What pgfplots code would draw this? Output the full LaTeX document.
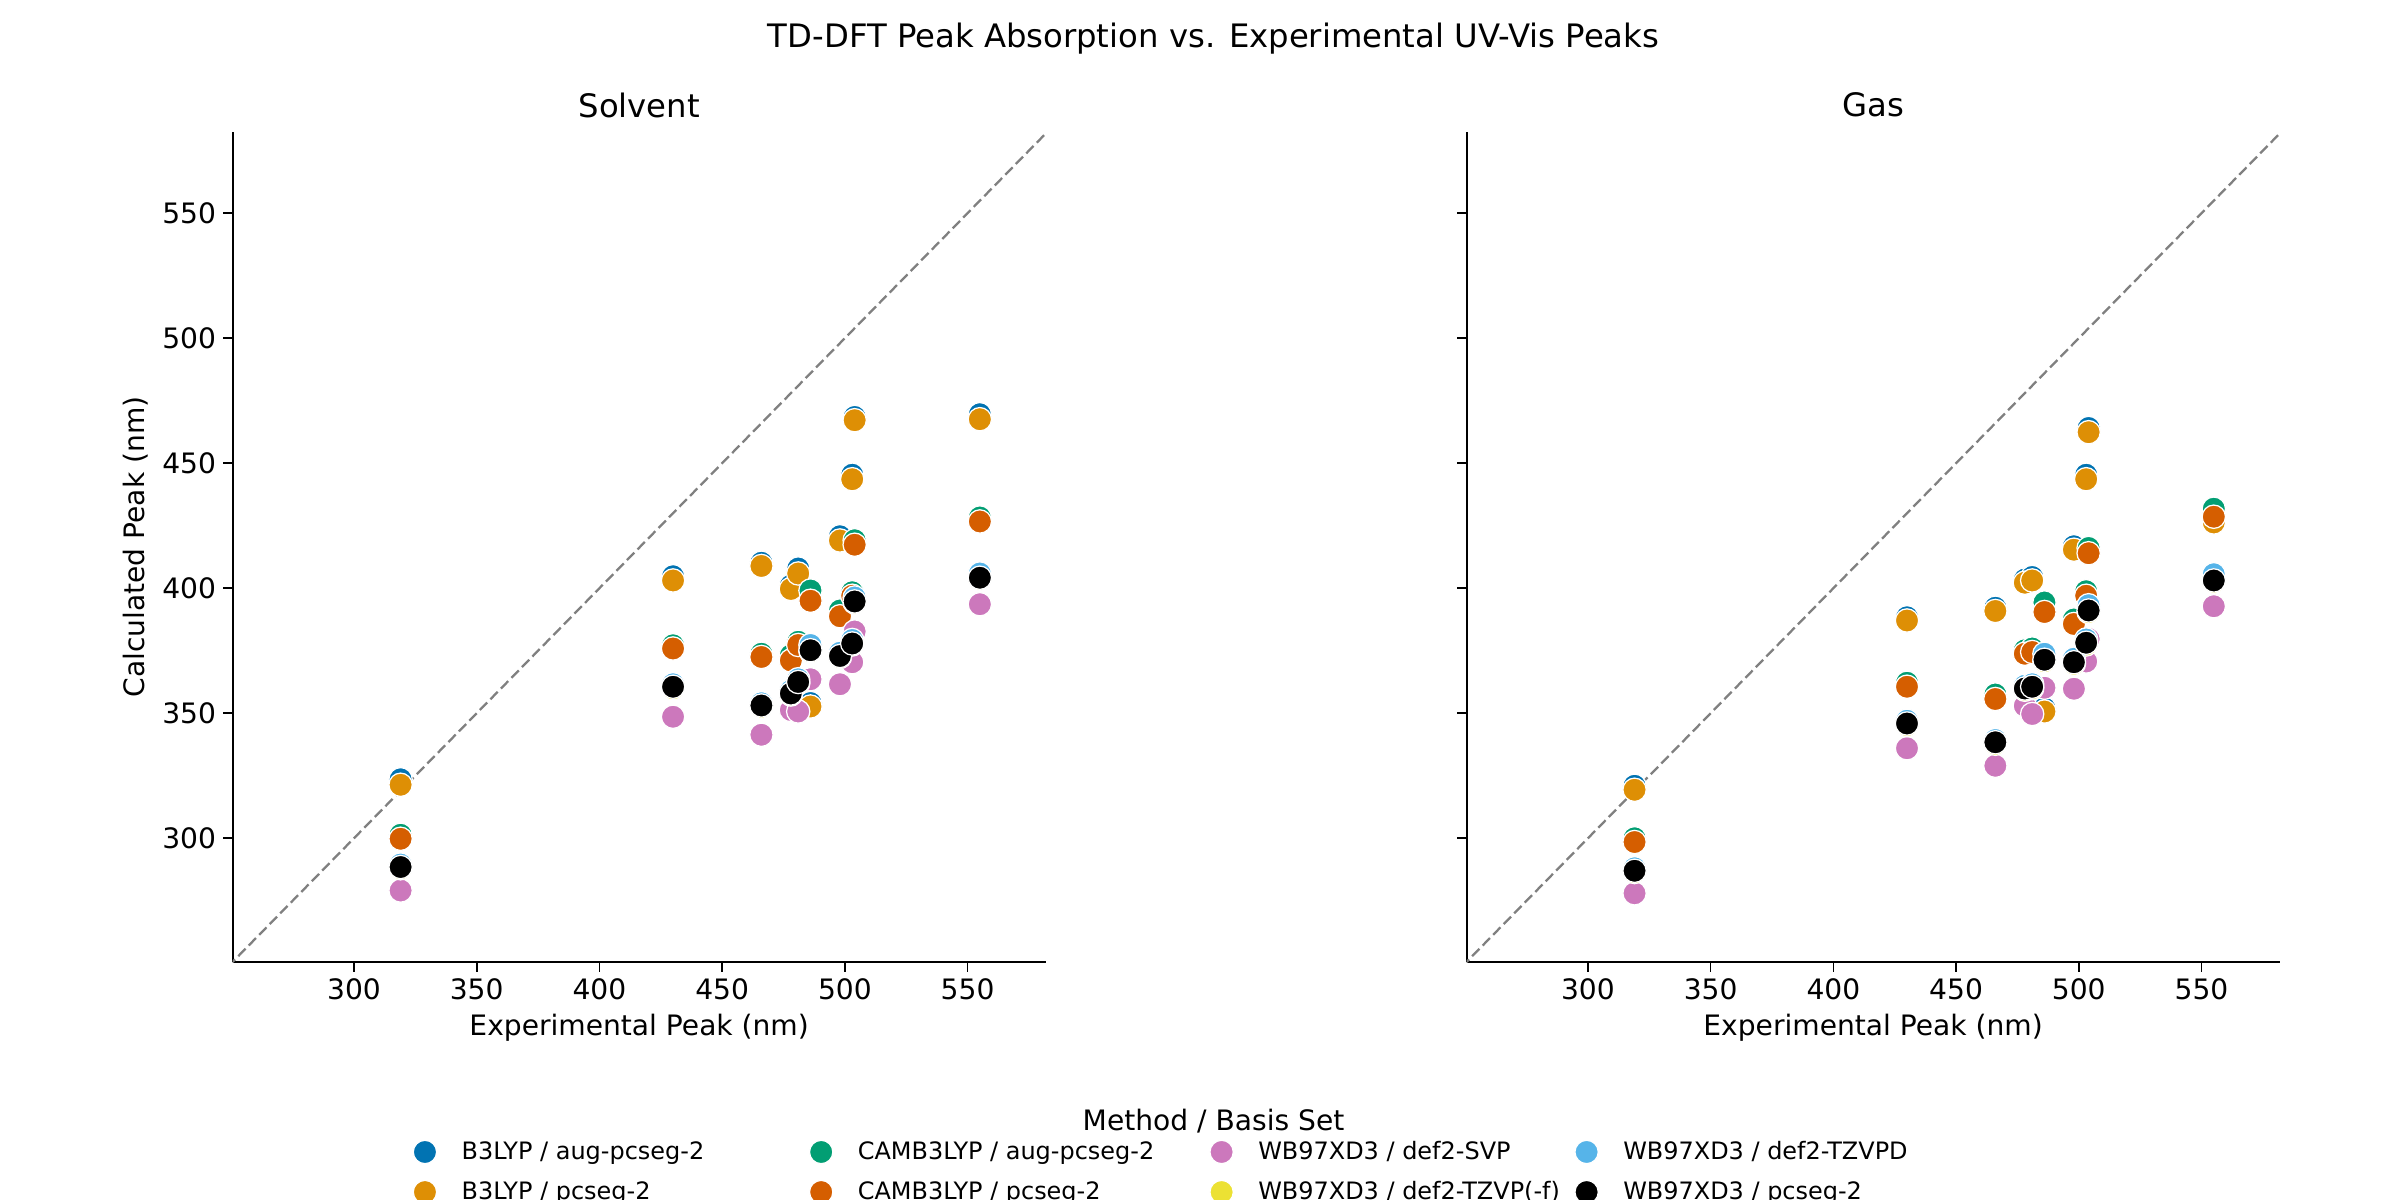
\documentclass[border=0pt]{standalone}
\usepackage{pgfplots}
\pgfplotsset{compat=1.18}
\usepackage{pgfplotstable}
\usepackage{fontspec}
\setmainfont{DejaVu Sans}
\definecolor{cA}{HTML}{0173B2}
\definecolor{cB}{HTML}{DE8F05}
\definecolor{cC}{HTML}{029E73}
\definecolor{cD}{HTML}{D55E00}
\definecolor{cE}{HTML}{CC78BC}
\definecolor{cF}{HTML}{ECE133}
\definecolor{cG}{HTML}{56B4E9}
\definecolor{cH}{HTML}{000000}
\pgfplotstableread{
x   a     b     c     d     e     f     g     h
319 323.6 321.4 301.4 299.8 279.1 288.0 289.5 288.5
430 404.8 403.1 377.2 375.9 348.6 360.0 361.6 360.6
466 410.2 408.9 373.8 372.5 341.4 352.6 354.0 353.1
478 401.1 399.7 373.2 371.1 351.3 357.5 359.0 357.9
481 407.9 405.9 378.6 377.3 350.7 362.0 363.6 362.5
486 354.1 352.7 399.1 395.0 363.6 374.8 377.3 375.2
498 420.8 419.1 391.1 388.8 361.6 372.5 374.2 372.9
503 445.4 443.6 398.4 397.0 370.4 377.5 379.3 377.9
504 468.5 467.2 419.2 417.4 382.7 394.3 396.3 394.7
555 469.6 467.6 428.3 426.7 393.6 403.8 405.9 404.2
}\solv
\pgfplotstableread{
x   a     b     c     d     e     f     g     h
319 321.0 319.4 300.0 298.5 278.0 286.5 288.0 287.0
430 388.4 387.1 362.2 360.6 336.0 345.3 347.0 345.9
466 392.2 390.9 357.5 355.7 329.0 337.8 339.3 338.4
478 403.5 402.2 375.2 373.8 353.0 359.4 361.0 359.9
481 404.5 403.1 375.9 374.5 349.7 360.0 361.6 360.6
486 352.0 350.7 394.3 390.5 360.2 370.8 373.8 371.4
498 416.8 415.4 387.5 385.7 359.8 369.8 371.8 370.4
503 445.4 443.6 398.8 397.0 370.7 377.5 379.5 378.2
504 464.1 462.4 416.1 414.0 379.7 390.5 393.2 391.1
555 427.6 426.3 431.8 428.6 392.8 402.6 405.6 403.1
}\gas
\pgfplotsset{
  panel/.style={
    scale only axis, width=390.2pt, height=398.7pt,
    xmin=250.6, xmax=581.8, ymin=250.4, ymax=582.6,
    axis x line*=bottom, axis y line*=left,
    axis line style={line width=0.8pt, -},
    tick align=outside, major tick length=4.5pt,
    tick style={line width=0.8pt, black},
    xtick={300,350,...,550}, ytick={300,350,...,550},
    tick label style={font=\fontsize{13.5}{15}\selectfont},
    label style={font=\fontsize{13.5}{15}\selectfont},
    /pgf/number format/assume math mode=true,
    xlabel={Experimental Peak (nm)},
    clip=true,
  },
  sc/.style={only marks, mark=*, mark size=5.6pt, mark options={fill=#1, draw=white, line width=0.6pt}},
  diag/.style={color=black!50, line width=1.1pt, dash pattern=on 5pt off 2.2pt, forget plot},
}
\newcommand{\series}[1]{%
  \addplot[sc=cA, forget plot] table[x=x,y=a]{#1};
  \addplot[sc=cB, forget plot] table[x=x,y=b]{#1};
  \addplot[sc=cC, forget plot] table[x=x,y=c]{#1};
  \addplot[sc=cD, forget plot] table[x=x,y=d]{#1};
  \addplot[sc=cE, forget plot] table[x=x,y=e]{#1};
  \addplot[sc=cF, forget plot] table[x=x,y=f]{#1};
  \addplot[sc=cG, forget plot] table[x=x,y=g]{#1};
  \addplot[sc=cH, forget plot] table[x=x,y=h]{#1};
}
\begin{document}
\begin{tikzpicture}
\path[use as bounding box] (0,0) rectangle (1152pt,576pt);
\begin{axis}[panel, at={(111.7pt,114.1pt)}, anchor=south west, ylabel={Calculated Peak (nm)}]
\addplot[diag] coordinates {(240,240) (600,600)};
\series{\solv}
\end{axis}
\begin{axis}[panel, at={(704pt,114.1pt)}, anchor=south west, yticklabels={},
  legend columns=4,
  legend style={draw=none, fill=none, at={(-1.304,-0.205)}, anchor=north west,
    font=\fontsize{11.5}{13.5}\selectfont, row sep=5pt},
  legend cell align=left]
\addplot[diag] coordinates {(240,240) (600,600)};
\series{\gas}
\addlegendimage{sc=cA}\addlegendentry{\hspace{10pt}\makebox[165pt][l]{B3LYP / aug-pcseg-2}}
\addlegendimage{sc=cC}\addlegendentry{\hspace{10pt}\makebox[167pt][l]{CAMB3LYP / aug-pcseg-2}}
\addlegendimage{sc=cE}\addlegendentry{\hspace{10pt}\makebox[150pt][l]{WB97XD3 / def2-SVP}}
\addlegendimage{sc=cG}\addlegendentry{\hspace{10pt}WB97XD3 / def2-TZVPD}
\addlegendimage{sc=cB}\addlegendentry{\hspace{10pt}B3LYP / pcseg-2}
\addlegendimage{sc=cD}\addlegendentry{\hspace{10pt}CAMB3LYP / pcseg-2}
\addlegendimage{sc=cF}\addlegendentry{\hspace{10pt}WB97XD3 / def2-TZVP(-f)}
\addlegendimage{sc=cH}\addlegendentry{\hspace{10pt}WB97XD3 / pcseg-2}
\end{axis}
\node[font=\fontsize{15.5}{17}\selectfont] at (582.5pt,557.3pt) {TD-DFT Peak Absorption vs. Experimental UV-Vis Peaks};
\node[font=\fontsize{15.5}{17}\selectfont] at (306.8pt,525.6pt) {Solvent};
\node[font=\fontsize{15.5}{17}\selectfont] at (899.1pt,525.6pt) {Gas};
\node[font=\fontsize{13.5}{15}\selectfont] at (582.5pt,38pt) {Method / Basis Set};
\end{tikzpicture}
\end{document}
